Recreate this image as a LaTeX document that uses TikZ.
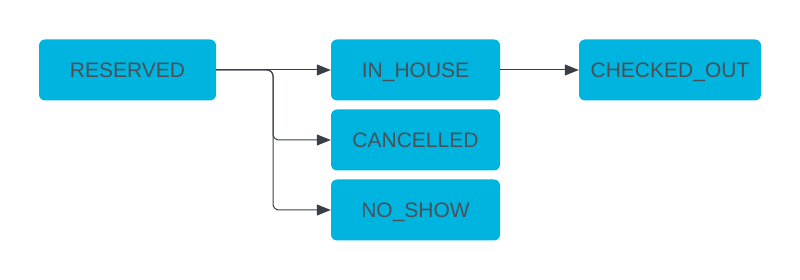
\documentclass[tikz,border=0pt]{standalone}
\usepackage{fontspec}
\setmainfont{Liberation Sans}
\usetikzlibrary{arrows.meta}
\definecolor{boxfill}{HTML}{00B4E0}
\definecolor{txt}{HTML}{4B5058}
\definecolor{lin}{HTML}{3A3F47}
\tikzset{
  state/.style={draw=none, fill=boxfill, rounded corners=6pt, minimum height=61pt, text=txt, font=\fontsize{21}{24}\selectfont, inner sep=0pt, text height=15pt, text depth=0pt},
  conn/.style={draw=lin, line width=1pt, -{Triangle[length=14pt,width=11pt]}, rounded corners=6pt}
}
\begin{document}
\begin{tikzpicture}[x=1pt,y=-1pt]
\useasboundingbox (0,0) rectangle (800,280);
\node[state, minimum width=177pt] (res) at (127.5,70) {RESERVED};
\node[state, minimum width=169pt] (inh) at (415.5,70) {IN\_HOUSE};
\node[state, minimum width=169pt] (can) at (415.5,140) {CANCELLED};
\node[state, minimum width=169pt] (nos) at (415.5,210) {NO\_SHOW};
\node[state, minimum width=182pt] (chk) at (670,70) {CHECKED\_OUT};
\coordinate (br) at (273,70);
\draw[conn] (res.east) -- (inh.west);
\draw[conn] (res.east) -- (br) |- (can.west);
\draw[conn] (res.east) -- (br) |- (nos.west);
\draw[conn] (inh.east) -- (chk.west);
\end{tikzpicture}
\end{document}
